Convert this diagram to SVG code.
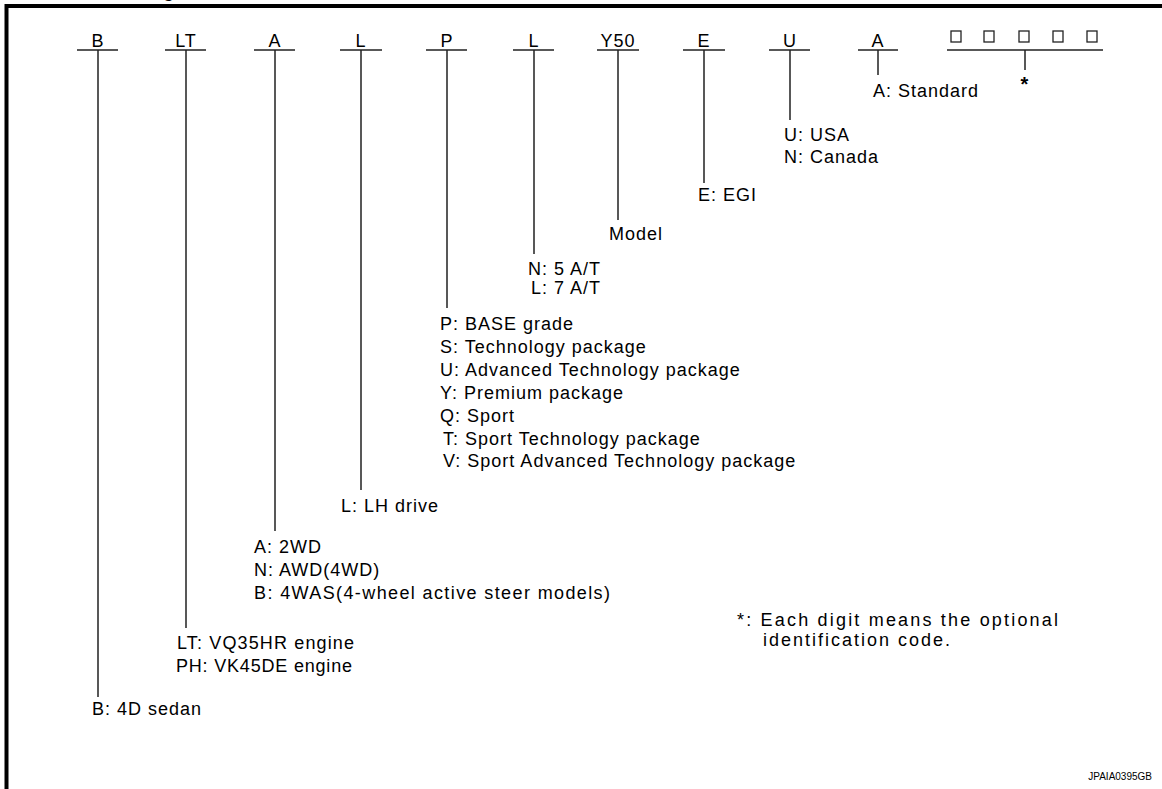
<svg xmlns="http://www.w3.org/2000/svg" width="1162" height="789" viewBox="0 0 1162 789">
<style>
text{font-family:"Liberation Sans",Arial,sans-serif;font-size:18px;fill:#000;letter-spacing:1px}
.c{text-anchor:middle}
.ln{stroke:#222;stroke-width:1.5;fill:none}
.bx{stroke:#222;stroke-width:1.3;fill:none}
.fn{letter-spacing:2px}
</style>
<rect x="0" y="0" width="1162" height="789" fill="#fff"/>
<text x="163" y="-3" style="font-size:20px">g</text>
<path d="M6.5 789 V6 H1162" stroke="#000" stroke-width="4" fill="none"/>
<g id="connectors">
<path class="ln" d="M77 50H118M98 50V697"/>
<path class="ln" d="M165 50H206M186 50V628"/>
<path class="ln" d="M254 50H295M275 50V531"/>
<path class="ln" d="M340 50H382M361 50V490"/>
<path class="ln" d="M426 50H467M447 50V308"/>
<path class="ln" d="M513 50H554M534 50V254"/>
<path class="ln" d="M597 50H639M618 50V220"/>
<path class="ln" d="M683 50H725M704 50V183"/>
<path class="ln" d="M769 50H810M790 50V120"/>
<path class="ln" d="M858 50H898M878 50V75"/>
<path class="ln" d="M947 50H1103M1025 50V70"/>
</g>
<g id="code">
<text class="c" x="98" y="47">B</text>
<text class="c" x="186" y="47">LT</text>
<text class="c" x="275" y="47">A</text>
<text class="c" x="361" y="47">L</text>
<text class="c" x="447" y="47">P</text>
<text class="c" x="534" y="47">L</text>
<text class="c" x="618" y="47">Y50</text>
<text class="c" x="704" y="47">E</text>
<text class="c" x="790" y="47">U</text>
<text class="c" x="878" y="47">A</text>
<rect class="bx" x="951" y="31" width="10" height="11"/>
<rect class="bx" x="984" y="31" width="10" height="11"/>
<rect class="bx" x="1019" y="31" width="10" height="11"/>
<rect class="bx" x="1053" y="31" width="10" height="11"/>
<rect class="bx" x="1087" y="31" width="10" height="11"/>
</g>
<g id="n-body"><text x="92" y="715">B: 4D sedan</text></g>
<g id="n-engine"><text x="177" y="649" textLength="178">LT: VQ35HR engine</text><text x="176" y="672" textLength="177">PH: VK45DE engine</text></g>
<g id="n-drive"><text x="254" y="553">A: 2WD</text><text x="254" y="576">N: AWD(4WD)</text><text x="254" y="599" textLength="357">B: 4WAS(4-wheel active steer models)</text></g>
<g id="n-hand"><text x="341" y="512">L: LH drive</text></g>
<g id="n-grade">
<text x="440" y="330">P: BASE grade</text>
<text x="440" y="353">S: Technology package</text>
<text x="440" y="376">U: Advanced Technology package</text>
<text x="440" y="399">Y: Premium package</text>
<text x="440" y="422">Q: Sport</text>
<text x="443" y="445">T: Sport Technology package</text>
<text x="443" y="467">V: Sport Advanced Technology package</text>
</g>
<g id="n-trans"><text x="528" y="275">N: 5 A/T</text><text x="531" y="294">L: 7 A/T</text></g>
<g id="n-model"><text x="609" y="240">Model</text></g>
<g id="n-engine-type"><text x="698" y="201">E: EGI</text></g>
<g id="n-dest"><text x="784" y="141">U: USA</text><text x="784" y="163">N: Canada</text></g>
<g id="n-spec"><text x="873" y="97">A: Standard</text></g>
<g id="n-option"><text class="c" x="1025" y="91" style="font-size:20px;font-weight:bold">*</text></g>
<g id="note">
<text class="fn" x="737" y="626" textLength="323">*: Each digit means the optional</text>
<text class="fn" x="763" y="646">identification code.</text>
</g>
<text x="1152" y="780" style="font-size:10px;letter-spacing:0;text-anchor:end">JPAIA0395GB</text>
</svg>
